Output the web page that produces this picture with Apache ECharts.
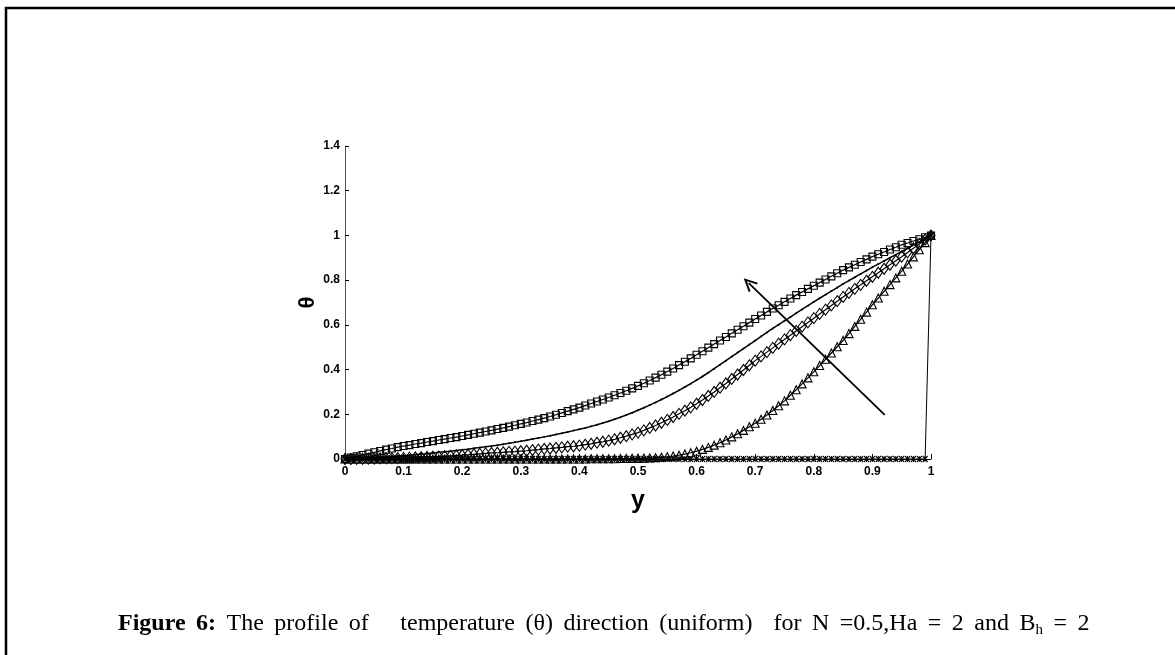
<!DOCTYPE html>
<html><head><meta charset="utf-8">
<script src="https://cdn.jsdelivr.net/npm/echarts@6/dist/echarts.min.js"></script>
<style>html,body{margin:0;padding:0;background:#fff}#c{width:1175px;height:655px}</style>
</head><body><div id="c"></div>
<script>
// sample positions along y (0 .. 1, step 0.01)
const yPos = [0,0.01,0.02,0.03,0.04,0.05,0.06,0.07,0.08,0.09,0.1,0.11,0.12,0.13,0.14,0.15,0.16,0.17,0.18,0.19,0.2,0.21,0.22,0.23,0.24,0.25,0.26,0.27,0.28,0.29,0.3,0.31,0.32,0.33,0.34,0.35,0.36,0.37,0.38,0.39,0.4,0.41,0.42,0.43,0.44,0.45,0.46,0.47,0.48,0.49,0.5,0.51,0.52,0.53,0.54,0.55,0.56,0.57,0.58,0.59,0.6,0.61,0.62,0.63,0.64,0.65,0.66,0.67,0.68,0.69,0.7,0.71,0.72,0.73,0.74,0.75,0.76,0.77,0.78,0.79,0.8,0.81,0.82,0.83,0.84,0.85,0.86,0.87,0.88,0.89,0.9,0.91,0.92,0.93,0.94,0.95,0.96,0.97,0.98,0.99,1];

const thetaSquares = [0,0.006,0.012,0.018,0.024,0.030,0.036,0.042,0.047,0.053,0.058,0.062,0.067,0.071,0.076,0.080,0.085,0.089,0.094,0.098,0.103,0.108,0.113,0.118,0.123,0.128,0.134,0.139,0.145,0.151,0.157,0.163,0.170,0.176,0.183,0.190,0.198,0.206,0.214,0.222,0.230,0.239,0.248,0.257,0.266,0.275,0.285,0.295,0.305,0.316,0.327,0.339,0.351,0.364,0.377,0.391,0.405,0.420,0.435,0.450,0.466,0.482,0.498,0.514,0.530,0.546,0.562,0.578,0.594,0.610,0.626,0.642,0.658,0.673,0.688,0.703,0.718,0.733,0.747,0.761,0.775,0.789,0.803,0.817,0.831,0.845,0.857,0.869,0.881,0.893,0.905,0.916,0.926,0.937,0.947,0.958,0.966,0.975,0.983,0.992,1.0];

const thetaLine = [0,0.001,0.002,0.003,0.005,0.006,0.008,0.009,0.011,0.013,0.015,0.017,0.019,0.022,0.024,0.027,0.030,0.032,0.035,0.038,0.041,0.044,0.048,0.051,0.055,0.058,0.062,0.066,0.070,0.075,0.079,0.084,0.089,0.094,0.099,0.104,0.110,0.115,0.121,0.127,0.133,0.139,0.146,0.153,0.161,0.169,0.178,0.187,0.197,0.207,0.218,0.229,0.241,0.253,0.266,0.279,0.293,0.307,0.322,0.337,0.353,0.369,0.386,0.404,0.422,0.440,0.458,0.476,0.494,0.512,0.530,0.548,0.566,0.584,0.601,0.618,0.635,0.652,0.669,0.686,0.703,0.719,0.735,0.751,0.767,0.783,0.798,0.813,0.828,0.843,0.858,0.872,0.886,0.900,0.914,0.928,0.942,0.957,0.971,0.986,1.0];

const thetaDiamonds = [0,0.000,0.001,0.001,0.002,0.002,0.003,0.003,0.004,0.004,0.005,0.006,0.007,0.008,0.009,0.010,0.011,0.013,0.014,0.016,0.017,0.019,0.021,0.023,0.025,0.027,0.028,0.030,0.032,0.033,0.035,0.037,0.040,0.042,0.045,0.047,0.050,0.052,0.055,0.057,0.060,0.064,0.068,0.073,0.077,0.082,0.088,0.095,0.102,0.110,0.118,0.128,0.139,0.150,0.162,0.175,0.188,0.202,0.216,0.231,0.247,0.264,0.282,0.300,0.319,0.338,0.358,0.378,0.398,0.419,0.440,0.459,0.478,0.497,0.516,0.535,0.554,0.573,0.592,0.611,0.630,0.649,0.668,0.687,0.706,0.725,0.743,0.761,0.779,0.797,0.815,0.833,0.851,0.869,0.887,0.905,0.924,0.943,0.962,0.981,1.0];

const thetaTriangles = [0,0,0,0,0,0,0,0,0,0,0,0,0,0,0,0,0,0,0,0,0,0,0,0,0,0,0,0,0,0,0,0,0,0,0,0,0,0,0,0,0,0,0.001,0.001,0.001,0.001,0.001,0.002,0.002,0.003,0.003,0.004,0.005,0.006,0.008,0.010,0.013,0.017,0.022,0.028,0.035,0.043,0.052,0.062,0.073,0.085,0.099,0.113,0.128,0.144,0.160,0.178,0.197,0.217,0.238,0.260,0.285,0.310,0.336,0.363,0.390,0.418,0.446,0.474,0.502,0.530,0.561,0.593,0.625,0.657,0.690,0.720,0.750,0.780,0.810,0.840,0.872,0.904,0.936,0.968,1.0];

const thetaZero = [0,0,0,0,0,0,0,0,0,0,0,0,0,0,0,0,0,0,0,0,0,0,0,0,0,0,0,0,0,0,0,0,0,0,0,0,0,0,0,0,0,0,0,0,0,0,0,0,0,0,0,0,0,0,0,0,0,0,0,0,0,0,0,0,0,0,0,0,0,0,0,0,0,0,0,0,0,0,0,0,0,0,0,0,0,0,0,0,0,0,0,0,0,0,0,0,0,0,0,0,1];

// annotation arrow (data coordinates: tail -> head)
const arrowTail = [0.921, 0.197];
const arrowHead = [0.689, 0.787];

// caption words (justified line: fixed-width gaps between words)
const captionBold = ['Figure', '6:'];
const captionWords = ['The', 'profile', 'of', '', '', 'temperature', '(\u03b8)', 'direction', '(uniform)', '', 'for', 'N', '=0.5,Ha', '=', '2', 'and'];
const captionTail = ['B', 'h', '=', '2'];

function pairs(vals) { return yPos.map((x, i) => [x, vals[i]]); }

function buildCaption() {
  let parts = captionBold.map(w => '{b|' + w + '}');
  captionWords.forEach(w => parts.push(w ? '{n|' + w + '}' : ''));
  let s = parts.join('{w| }');
  s += '{w| }{n|' + captionTail[0] + '}{s|' + captionTail[1] + '}{w| }{n|' + captionTail[2] + '}{w| }{n|' + captionTail[3] + '}';
  return s;
}

const chart = echarts.init(document.getElementById('c'), null, {renderer: 'canvas'});
const axisFont = {fontFamily: 'Liberation Sans Narrow, Liberation Sans, Arial, sans-serif', fontWeight: 'bold', fontSize: 12, color: '#000'};
const open = {color: 'rgba(0,0,0,0)', borderColor: '#000', borderWidth: 1.1};
const serif = 'Liberation Serif, Times New Roman, serif';

chart.setOption({
  backgroundColor: '#fff',
  animation: false,
  grid: {left: 345, right: 244, top: 146, bottom: 196},
  xAxis: {
    type: 'value', min: 0, max: 1, interval: 0.1,
    name: 'y', nameLocation: 'middle', nameGap: 30,
    nameTextStyle: {fontFamily: 'Liberation Sans Narrow, Liberation Sans, Arial, sans-serif', fontWeight: 'bold', fontSize: 25, color: '#000'},
    axisLine: {show: true, lineStyle: {color: '#000', width: 1}},
    axisTick: {show: true, inside: true, length: 5, lineStyle: {color: '#000'}},
    axisLabel: Object.assign({margin: 7}, axisFont),
    splitLine: {show: false}
  },
  yAxis: {
    type: 'value', min: 0, max: 1.4, interval: 0.2,
    name: '\u03b8', nameLocation: 'middle', nameGap: 18, nameRotate: 90,
    nameTextStyle: {fontFamily: 'Liberation Sans, Arial, sans-serif', fontWeight: 'bold', fontSize: 22, color: '#000'},
    axisLine: {show: true, lineStyle: {color: '#555', width: 1}},
    axisTick: {show: true, inside: true, length: 4, lineStyle: {color: '#000'}},
    axisLabel: Object.assign({margin: 5}, axisFont),
    splitLine: {show: false}
  },
  series: [
    {type: 'line', data: pairs(thetaZero), symbol: 'path://M0,0L10,10M10,0L0,10M5,0L5,10', symbolSize: [5, 6],
      itemStyle: open, lineStyle: {color: '#000', width: 1}, z: 2},
    {type: 'line', data: pairs(thetaTriangles), symbol: 'triangle', symbolSize: 8,
      itemStyle: open, lineStyle: {color: '#000', width: 1.2}, z: 3},
    {type: 'line', data: pairs(thetaDiamonds), symbol: 'diamond', symbolSize: [8, 11],
      itemStyle: open, lineStyle: {color: '#000', width: 1.2}, z: 3},
    {type: 'line', data: pairs(thetaLine), symbol: 'circle', symbolSize: 2,
      itemStyle: {color: '#000'}, lineStyle: {color: '#000', width: 1.5}, z: 3},
    {type: 'line', data: pairs(thetaSquares), symbol: 'rect', symbolSize: 7,
      itemStyle: open, lineStyle: {color: '#000', width: 1.2}, z: 4,
      markLine: {
        silent: true, animation: false,
        symbol: ['none', 'path://M0,10L5,0L10,10L8.6,10.6L5,3.4L1.4,10.6Z'], symbolSize: [13, 14],
        lineStyle: {color: '#000', width: 1.8, type: 'solid'},
        itemStyle: {color: '#000'},
        label: {show: false},
        data: [[{coord: arrowTail}, {coord: arrowHead}]]
      }
    }
  ],
  graphic: [
    {type: 'rect', shape: {x: 6, y: 8, width: 1180, height: 700}, style: {fill: 'none', stroke: '#000', lineWidth: 2.5}, silent: true},
    {type: 'text', left: 118, top: 612, style: {
      text: buildCaption(),
      rich: {
        b: {fontFamily: serif, fontWeight: 'bold', fontSize: 24, lineHeight: 28, verticalAlign: 'middle'},
        n: {fontFamily: serif, fontSize: 24, lineHeight: 28, verticalAlign: 'middle'},
        w: {fontFamily: serif, fontSize: 24, lineHeight: 28, width: 10.5, verticalAlign: 'middle'},
        s: {fontFamily: serif, fontSize: 15, lineHeight: 10, verticalAlign: 'bottom'}
      },
      font: '24px "Liberation Serif"', fill: '#000'
    }}
  ]
});
</script></body></html>
